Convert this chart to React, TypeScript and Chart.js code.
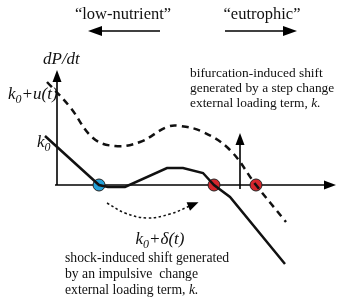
import React, { useEffect, useRef } from "react";
import { Chart, registerables } from "chart.js";
Chart.register(...registerables);

// Axis extents in diagram units (origin at the dP/dt axes crossing)
const X_MIN = -57, X_MAX = 282, Y_MIN = -112, Y_MAX = 185;

// Solid curve: dP/dt with loading k0
const solidX = [-12, 42, 51, 68, 110, 126, 146, 157, 173, 228];
const solidY = [49, 0, -2, -2, 17, 17, 12, 0, -12, -79];

// Dashed curve: dP/dt with loading k0+u(t)
const dashedX = [-10, 13, 36, 58, 83, 110, 123, 146, 173, 199, 229];
const dashedY = [103, 78, 47, 39, 43, 58, 59, 53, 35, 0, -37];

// Equilibria (roots)
const eqX = [42, 157, 199];
const eqY = [0, 0, 0];
const eqColors = ["#22a0d8", "#d4262c", "#d4262c"];

// Shock-induced jump (dotted curved arrow)
const shockX = [50, 68, 90, 113, 135];
const shockY = [-18, -28, -33, -29, -20];

// Straight arrows: [x1, y1, x2(tip), y2(tip), head length, head half-width]
const axisArrows = [
  [0, 0, 0, 115, 12, 4.5],
  [-2, 0, 279, 0, 12, 4.5],
  [183, -4, 183, 52, 12, 4.5],
  [103, 154, 31, 154, 14, 5],
  [168, 154, 240, 154, 14, 5],
];

type Run = [string, "n" | "i" | "s"];
const labels: { runs: Run[]; x: number; y: number; align: "left" | "center"; size: number }[] = [
  { runs: [["\u201Clow-nutrient\u201D", "n"]], x: 66, y: 170, align: "center", size: 16.5 },
  { runs: [["\u201Ceutrophic\u201D", "n"]], x: 205, y: 170, align: "center", size: 16.5 },
  { runs: [["dP/dt", "i"]], x: -14, y: 125, align: "left", size: 17 },
  { runs: [["k", "i"], ["0", "s"], ["+u(t)", "i"]], x: -49, y: 90, align: "left", size: 17 },
  { runs: [["k", "i"], ["0", "s"]], x: -20, y: 42, align: "left", size: 17 },
  { runs: [["k", "i"], ["0", "s"], ["+\u03B4(t)", "i"]], x: 103, y: -55, align: "center", size: 17 },
  { runs: [["bifurcation-induced shift", "n"]], x: 133, y: 112, align: "left", size: 13.4 },
  { runs: [["generated by a step change", "n"]], x: 133, y: 97, align: "left", size: 13.4 },
  { runs: [["external loading term, ", "n"], ["k.", "i"]], x: 133, y: 82, align: "left", size: 13.4 },
  { runs: [["shock-induced shift generated", "n"]], x: 8, y: -73, align: "left", size: 13.7 },
  { runs: [["by an impulsive  change", "n"]], x: 8, y: -89, align: "left", size: 13.7 },
  { runs: [["external loading term, ", "n"], ["k.", "i"]], x: 8, y: -105, align: "left", size: 13.7 },
];

const FONT = "'Liberation Serif', 'Times New Roman', serif";

function fontFor(style: string, size: number) {
  if (style === "n") return `${size}px ${FONT}`;
  if (style === "i") return `italic ${size}px ${FONT}`;
  return `italic ${Math.round(size * 0.7)}px ${FONT}`;
}

function drawRuns(ctx: CanvasRenderingContext2D, runs: Run[], x: number, y: number, align: string, size: number) {
  ctx.textBaseline = "middle";
  ctx.textAlign = "left";
  let total = 0;
  const widths = runs.map(([t, s]) => {
    ctx.font = fontFor(s, size);
    const w = ctx.measureText(t).width;
    total += w;
    return w;
  });
  let cx = align === "center" ? x - total / 2 : x;
  runs.forEach(([t, s], i) => {
    ctx.font = fontFor(s, size);
    ctx.fillText(t, cx, s === "s" ? y + size * 0.3 : y);
    cx += widths[i];
  });
}

function arrowHead(ctx: CanvasRenderingContext2D, bx: number, by: number, tx: number, ty: number, len: number, half: number) {
  const dx = tx - bx, dy = ty - by;
  const d = Math.hypot(dx, dy) || 1;
  const ux = dx / d, uy = dy / d;
  const baseX = tx - ux * len, baseY = ty - uy * len;
  ctx.beginPath();
  ctx.moveTo(tx, ty);
  ctx.lineTo(baseX - uy * half, baseY + ux * half);
  ctx.lineTo(baseX + uy * half, baseY - ux * half);
  ctx.closePath();
  ctx.fill();
  return [baseX, baseY];
}

const overlay = {
  id: "overlay",
  beforeDatasetsDraw(chart: any) {
    const { ctx, scales } = chart;
    const px = (v: number) => scales.x.getPixelForValue(v);
    const py = (v: number) => scales.y.getPixelForValue(v);
    ctx.save();
    ctx.strokeStyle = "#000";
    ctx.fillStyle = "#000";
    ctx.lineWidth = 1.6;
    axisArrows.forEach(([x1, y1, x2, y2, hl, hw]) => {
      const sx = px(x1), sy = py(y1), tx = px(x2), ty = py(y2);
      const [bx, by] = arrowHead(ctx, sx, sy, tx, ty, hl, hw);
      ctx.beginPath();
      ctx.moveTo(sx, sy);
      ctx.lineTo(bx, by);
      ctx.stroke();
    });
    ctx.restore();
  },
  afterDatasetsDraw(chart: any) {
    const { ctx, scales } = chart;
    const px = (v: number) => scales.x.getPixelForValue(v);
    const py = (v: number) => scales.y.getPixelForValue(v);
    ctx.save();
    ctx.fillStyle = "#000";
    const n = shockX.length;
    const lx = px(shockX[n - 1]), ly = py(shockY[n - 1]);
    const bx = px(shockX[n - 2]), by = py(shockY[n - 2]);
    const dx = lx - bx, dy = ly - by, d = Math.hypot(dx, dy);
    arrowHead(ctx, lx, ly, lx + (dx / d) * 7, ly + (dy / d) * 7, 11, 4.5);
    ctx.fillStyle = "#111";
    labels.forEach((l) => drawRuns(ctx, l.runs, px(l.x), py(l.y), l.align, l.size));
    ctx.restore();
  },
};

export default function App() {
  const ref = useRef<HTMLCanvasElement>(null);
  useEffect(() => {
    document.body.style.margin = "0";
    const pts = (xs: number[], ys: number[]) => xs.map((x, i) => ({ x, y: ys[i] }));
    const chart = new Chart(ref.current!, {
      type: "scatter",
      data: {
        datasets: [
          {
            data: pts(solidX, solidY),
            showLine: true,
            borderColor: "#111",
            borderWidth: 2.5,
            pointRadius: 0,
            tension: 0,
          },
          {
            data: pts(dashedX, dashedY),
            showLine: true,
            borderColor: "#111",
            borderWidth: 2.5,
            borderDash: [7, 5],
            pointRadius: 0,
            tension: 0.4,
          },
          {
            data: pts(shockX, shockY),
            showLine: true,
            borderColor: "#111",
            borderWidth: 1.5,
            borderDash: [2.5, 2.5],
            pointRadius: 0,
            tension: 0.4,
          },
          {
            data: pts(eqX, eqY),
            showLine: false,
            pointRadius: 6,
            pointBackgroundColor: eqColors,
            pointBorderColor: "#222",
            pointBorderWidth: 1,
          },
        ],
      },
      options: {
        responsive: false,
        animation: false,
        layout: { padding: 0, autoPadding: false },
        plugins: { legend: { display: false }, tooltip: { enabled: false } },
        events: [],
        scales: {
          x: { type: "linear", min: X_MIN, max: X_MAX, display: false },
          y: { type: "linear", min: Y_MIN, max: Y_MAX, display: false },
        },
      },
      plugins: [overlay],
    });
    return () => chart.destroy();
  }, []);
  return (
    <div style={{ position: "fixed", left: 0, top: 0, width: 339, height: 297, background: "#fff" }}>
      <canvas ref={ref} width={339} height={297} />
    </div>
  );
}
